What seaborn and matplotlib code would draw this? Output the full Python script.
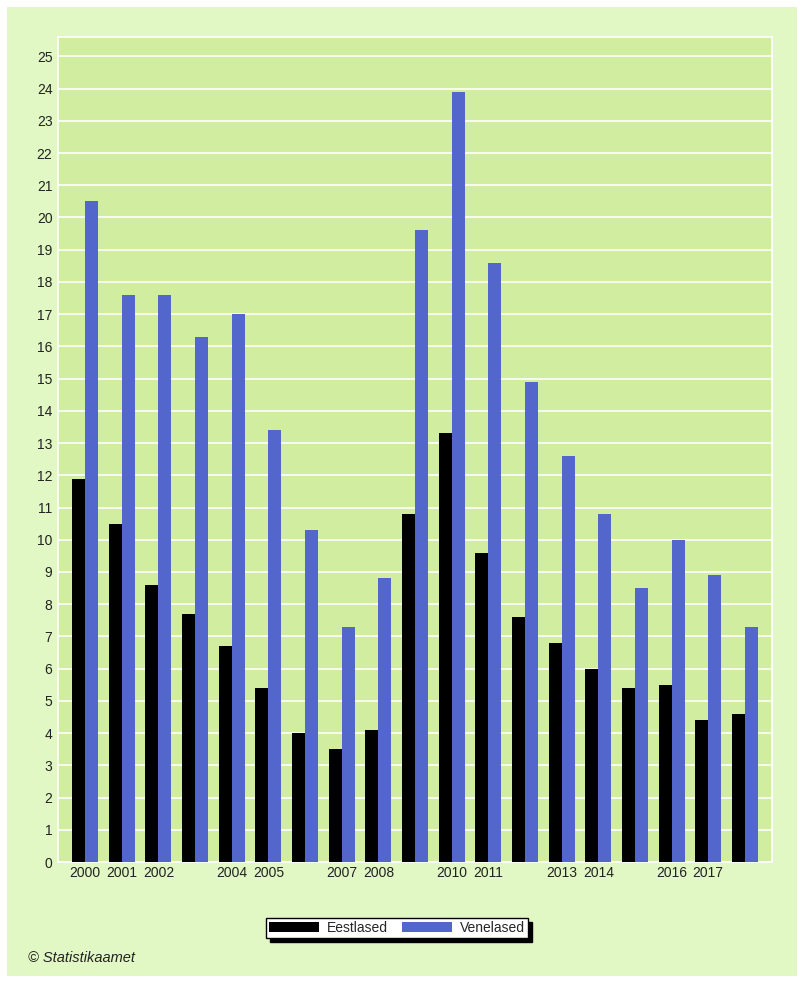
import matplotlib
matplotlib.use("Agg")
import matplotlib.pyplot as plt
from matplotlib.patches import Rectangle
import seaborn as sns
import pandas as pd

years = [str(y) for y in range(2000, 2019)]
shown_labels = ["2000", "2001", "2002", "", "2004", "2005", "", "2007", "2008", "",
                "2010", "2011", "", "2013", "2014", "", "2016", "2017", ""]
eestlased = [11.9, 10.5, 8.6, 7.7, 6.7, 5.4, 4.0, 3.5, 4.1, 10.8,
             13.3, 9.6, 7.6, 6.8, 6.0, 5.4, 5.5, 4.4, 4.6]
venelased = [20.5, 17.6, 17.6, 16.3, 17.0, 13.4, 10.3, 7.3, 8.8, 19.6,
             23.9, 18.6, 14.9, 12.6, 10.8, 8.5, 10.0, 8.9, 7.3]
series_names = ["Eestlased", "Venelased"]
colors = ["#000000", "#5266CC"]

df = pd.DataFrame({
    "year": years * 2,
    "value": eestlased + venelased,
    "group": [series_names[0]] * len(years) + [series_names[1]] * len(years),
})

sns.set_theme(style="white")
plt.rcParams["font.family"] = ["Liberation Sans", "DejaVu Sans"]

fig = plt.figure(figsize=(8.0, 9.81), dpi=100)
fig.patch.set_facecolor("white")
fig.patches.append(Rectangle((7 / 800, 1 - 976 / 981), 790 / 800, 969 / 981,
                             transform=fig.transFigure, facecolor="#E2F8C4",
                             edgecolor="none", zorder=-10))

ax = fig.add_axes([58 / 800, 1 - 862 / 981, 714 / 800, 825 / 981])
ax.set_zorder(1)
ax.set_facecolor("#D0EDA0")

sns.barplot(data=df, x="year", y="value", hue="group", palette=colors,
            width=0.71, gap=0, ax=ax, legend=False, zorder=3,
            edgecolor="none", linewidth=0, saturation=1)

ax.set_ylim(0, 25.6)
ax.set_xlim(-0.74, len(years) - 1 + 0.74)
ax.set_yticks(range(0, 26))
ax.set_yticklabels([str(v) for v in range(0, 26)], fontsize=10, color="#222222")
ax.set_xticks(range(len(years)))
ax.set_xticklabels(shown_labels, fontsize=10, color="#222222")
ax.tick_params(axis="both", length=0, pad=4)
ax.tick_params(axis="x", pad=3)
ax.grid(axis="y", color="white", linewidth=1.2, zorder=1)
ax.set_axisbelow(True)
ax.set_xlabel("")
ax.set_ylabel("")
for s in ax.spines.values():
    s.set_color("white")
    s.set_linewidth(1.2)

handles = [Rectangle((0, 0), 1, 1, facecolor=c, edgecolor="none") for c in colors]
leg = fig.legend(handles, series_names, loc="center", bbox_to_anchor=(397 / 800, 1 - 928 / 981),
                 ncol=2, frameon=True, fancybox=False, fontsize=10,
                 handlelength=3.6, handleheight=0.8, columnspacing=1.0, handletextpad=0.6,
                 borderpad=0.2, borderaxespad=0,
                 shadow={"color": "black", "alpha": 1, "ox": 3, "oy": -3})
leg.get_frame().set_edgecolor("black")
leg.get_frame().set_linewidth(1.0)
leg.get_frame().set_facecolor("white")

fig.text(28 / 800, 1 - 958 / 981, "© Statistikaamet", fontsize=10.5, style="italic",
         color="#222222", va="center", ha="left")

fig.savefig("out.png", dpi=100, facecolor=fig.get_facecolor())
